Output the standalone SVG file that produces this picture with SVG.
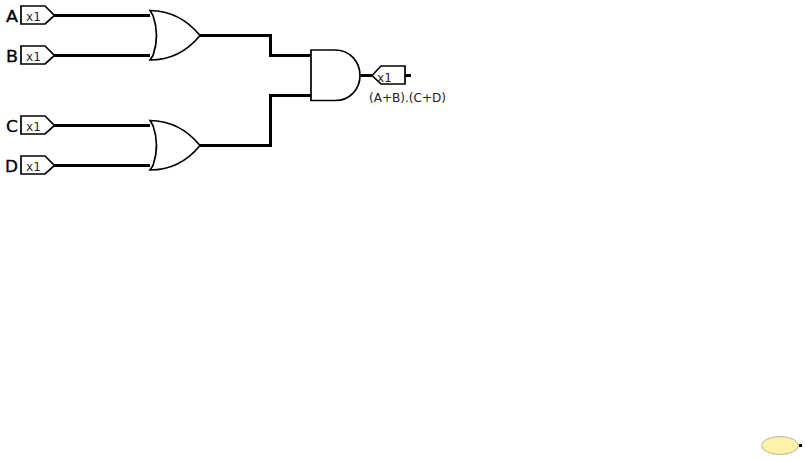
<svg xmlns="http://www.w3.org/2000/svg" width="805" height="460" viewBox="0 0 805 460">
<style>
.w{fill:none;stroke:#000;stroke-width:3}
.g{fill:#fff;stroke:#000;stroke-width:1.700;stroke-linejoin:miter}
.b{fill:#fff;stroke:#000;stroke-width:1.700}
.t{font-family:"DejaVu Sans",sans-serif;font-size:12px;fill:#222}
.m{font-family:"DejaVu Sans Mono",monospace;font-size:12px;fill:#222}
.l{font-family:"DejaVu Sans",sans-serif;font-size:15px;fill:#000;stroke:#000;stroke-width:.3}
</style>
<defs>
<path id="or" d="M150 10.500 Q180 11 200 35.500 Q180 60 150 60 L153 55.500 Q160 35.500 153 15.500 Z"/>
<path id="pin" d="M21 6H45L54.500 15.500L45 24H21Z"/>
</defs>
<rect width="805" height="460" fill="#fff"/>
<g id="connectors">
<path class="w" d="M54 15.500H150M54 55.500H150M200 35.500H270.500V55.500H311M54 125.500H150M54 165.500H150M200 145.500H270.500V95.500H311M360 75.500H372M405 75.500H411"/>
</g>
<g id="input-a"><use href="#pin" class="b"/><text x="26" y="21" class="m">x1</text><text x="6" y="21.500" class="l" textLength="12" lengthAdjust="spacingAndGlyphs">A</text></g>
<g id="input-b"><use href="#pin" class="b" y="40"/><text x="26" y="61" class="m">x1</text><text x="6" y="61.500" class="l" textLength="12" lengthAdjust="spacingAndGlyphs">B</text></g>
<g id="input-c"><use href="#pin" class="b" y="110"/><text x="26" y="131" class="m">x1</text><text x="6" y="131.500" class="l" textLength="12" lengthAdjust="spacingAndGlyphs">C</text></g>
<g id="input-d"><use href="#pin" class="b" y="150"/><text x="26" y="171" class="m">x1</text><text x="5" y="171.500" class="l" textLength="13" lengthAdjust="spacingAndGlyphs">D</text></g>
<g id="or-1"><use href="#or" class="g"/></g>
<g id="or-2"><use href="#or" class="g" y="110"/></g>
<g id="and"><path class="g" d="M311 50H335C350 50 360 62 360 75.500C360 89 350 100.500 335 100.500H311Z"/></g>
<g id="output">
<path class="b" d="M372 75.500L381 66H405V84H381Z"/>
<text x="377" y="81.500" class="m">x1</text>
<text x="369" y="102" class="t" textLength="77" lengthAdjust="spacingAndGlyphs">(A+B).(C+D)</text>
</g>
<g id="ellipse">
<ellipse cx="780" cy="445.500" rx="18.500" ry="9" fill="#fff2a8" stroke="#b5b5a5" stroke-width="1"/>
<path d="M799 445.500H802" stroke="#000" stroke-width="3"/>
</g>
</svg>
